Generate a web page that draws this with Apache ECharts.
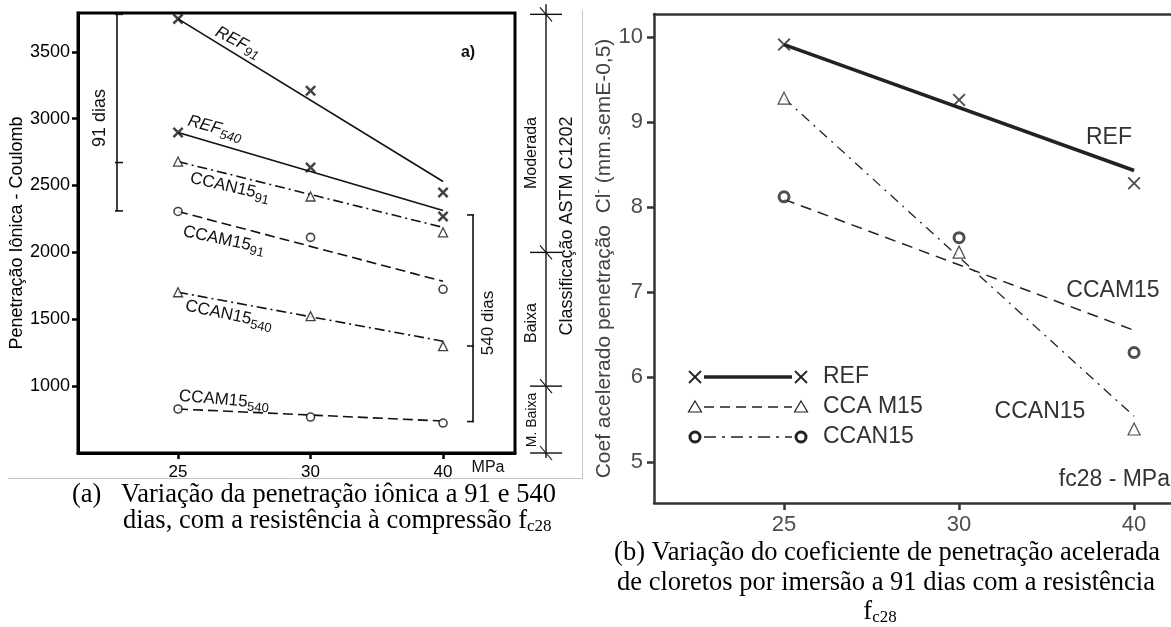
<!DOCTYPE html>
<html>
<head>
<meta charset="utf-8">
<script src="https://cdn.jsdelivr.net/npm/echarts@6/dist/echarts.min.js"></script>
<style>
html, body { margin: 0; padding: 0; background: #fff; }
#chart { width: 1171px; height: 627px; }
</style>
</head>
<body>
<div id="chart"></div>
<script>
// Compressive strength classes fc28 (MPa), shared by both panels
const strengthClasses = ['25', '30', '40'];

// (a) Charge passed (Coulomb) at 91 and 540 days
const ref91 = [3746, 3209, 2448];
const ref540 = [2896, 2634, 2269];
const ccan15_91 = [2679, 2418, 2150];
const ccam15_91 = [2306, 2112, 1724];
const ccan15_540 = [1702, 1523, 1299];
const ccam15_540 = [829, 769, 724];
// fitted trends: value at 25 MPa and at 40 MPa
const ref91Trend = [3746, 2530];
const ref540Trend = [2896, 2314];
const ccan15_91Trend = [2679, 2187];
const ccam15_91Trend = [2306, 1784];
const ccan15_540Trend = [1702, 1336];
const ccam15_540Trend = [829, 739];
const coulombTicks = [1000, 1500, 2000, 2500, 3000, 3500];

// ASTM C1202 class limits (Coulomb) and class names
const astmLimits = [3780, 2000, 1000, 500];
const astmClasses = ['Moderada', 'Baixa', 'M. Baixa'];
// ranges covered by the 91-day and 540-day results
const range91 = [3780, 2672, 2310];
const range540 = [2280, 1300, 735];

// (b) Accelerated chloride penetration coefficient at 91 days
const refCoef = [9.91, 9.26, 8.28];
const ccan15Coef = [9.28, 7.47, 5.39];
const ccam15Coef = [8.12, 7.64, 6.29];
const refCoefTrend = [9.91, 8.43];
const ccan15CoefTrend = [9.28, 5.54];
const ccam15CoefTrend = [8.09, 6.55];
const coefTicks = [5, 6, 7, 8, 9, 10];
const legendNames = ['REF', 'CCA M15', 'CCAN15'];

const SANS = '"Liberation Sans", Arial, sans-serif';
const SERIF = '"Liberation Serif", "Times New Roman", serif';
const crossBold = 'path://M0,1.6L1.6,0L5,3.4L8.4,0L10,1.6L6.6,5L10,8.4L8.4,10L5,6.6L1.6,10L0,8.4L3.4,5Z';
const crossThin = 'path://M0,1L1,0L5,4L9,0L10,1L6,5L10,9L9,10L5,6L1,10L0,9L4,5Z';
const classIdx = strengthClasses.map((c, i) => i);

const chart = echarts.init(document.getElementById('chart'), null, { renderer: 'canvas' });

const points = vals => vals.map((v, i) => [i, v]);
const trend = tv => [[0, tv[0]], [strengthClasses.length - 1, tv[1]]];

function markers(xi, yi, vals, symbol, size, style) {
  return {
    type: 'scatter', xAxisIndex: xi, yAxisIndex: yi, data: points(vals),
    symbol: symbol, symbolSize: size, itemStyle: style, z: 5, silent: true
  };
}
function fitLine(xi, yi, tv, color, width, dash) {
  return {
    type: 'line', xAxisIndex: xi, yAxisIndex: yi, data: trend(tv), symbol: 'none',
    lineStyle: { color: color, width: width, type: dash }, z: 3, silent: true
  };
}

const crossA = { color: '#111' };
const triA = { color: '#fff', borderColor: '#111', borderWidth: 1.3 };
const circA = { color: '#fff', borderColor: '#111', borderWidth: 1.6 };
const crossB = { color: '#222' };
const triB = { color: '#fff', borderColor: '#222', borderWidth: 1.2 };
const circB = { color: '#fff', borderColor: '#222', borderWidth: 3 };

const option = {
  animation: false,
  backgroundColor: '#fff',
  grid: [
    { left: 78, top: 13, width: 437, height: 440, show: true, borderColor: '#000', borderWidth: 3 },
    { left: 654, top: 14, width: 517, height: 489 }
  ],
  xAxis: [
    {
      type: 'value', gridIndex: 0, min: -0.755, max: 2.543,
      axisLine: { onZero: false, lineStyle: { color: '#000', width: 3 } },
      axisTick: { customValues: classIdx, length: 6, lineStyle: { color: '#000', width: 2.5 } },
      axisLabel: { customValues: classIdx, formatter: v => strengthClasses[Math.round(v)],
        fontSize: 17, color: '#000', margin: 11, fontFamily: SANS },
      splitLine: { show: false }
    },
    {
      type: 'value', gridIndex: 1, min: -0.743, max: 2.211,
      axisLine: { onZero: false, lineStyle: { color: '#333', width: 2.5 } },
      axisTick: { customValues: classIdx, length: 7, lineStyle: { color: '#333', width: 2.5 } },
      axisLabel: { customValues: classIdx, formatter: v => strengthClasses[Math.round(v)],
        fontSize: 22, color: '#4d4d4d', margin: 11, fontFamily: SANS },
      splitLine: { show: false }
    },
    {
      type: 'value', gridIndex: 1, position: 'top', min: -0.743, max: 2.211,
      axisLine: { onZero: false, lineStyle: { color: '#333', width: 2.5 } },
      axisTick: { show: false }, axisLabel: { show: false }, splitLine: { show: false }
    }
  ],
  yAxis: [
    {
      type: 'value', gridIndex: 0, min: 500, max: 3790,
      name: 'Penetração Iônica - Coulomb', nameLocation: 'middle', nameGap: 51,
      nameTextStyle: { fontSize: 18, color: '#000', fontFamily: SANS },
      axisLine: { onZero: false, lineStyle: { color: '#000', width: 3 } },
      axisTick: { customValues: coulombTicks, length: 6, lineStyle: { color: '#000', width: 2.5 } },
      axisLabel: { customValues: coulombTicks, formatter: v => String(v),
        fontSize: 18, color: '#000', margin: 8, fontFamily: SANS },
      splitLine: { show: false }
    },
    {
      type: 'value', gridIndex: 1, min: 4.52, max: 10.27,
      name: '{t|Coef acelerado penetração  Cl}{s|-}{t| (mm.semE-0,5)}',
      nameLocation: 'middle', nameGap: 31,
      nameTextStyle: {
        fontFamily: SANS, color: '#444',
        rich: {
          t: { fontSize: 21, color: '#444', fontFamily: SANS },
          s: { fontSize: 13, color: '#444', fontFamily: SANS, padding: [0, 0, 12, 0] }
        }
      },
      axisLine: { onZero: false, lineStyle: { color: '#333', width: 2.5 } },
      axisTick: { customValues: coefTicks, length: 7, lineStyle: { color: '#333', width: 2.5 } },
      axisLabel: { customValues: coefTicks, fontSize: 22, color: '#4d4d4d', margin: 11, fontFamily: SANS },
      splitLine: { show: false }
    }
  ],
  series: [
    // (a) 91 and 540 days
    fitLine(0, 0, ref91Trend, '#111', 1.6, 'solid'),
    fitLine(0, 0, ref540Trend, '#111', 1.6, 'solid'),
    fitLine(0, 0, ccan15_91Trend, '#111', 1.6, [10, 4, 2, 4]),
    fitLine(0, 0, ccam15_91Trend, '#111', 1.6, [10, 5]),
    fitLine(0, 0, ccan15_540Trend, '#111', 1.6, [10, 4, 2, 4]),
    fitLine(0, 0, ccam15_540Trend, '#111', 1.6, [10, 5]),
    markers(0, 0, ref91, crossBold, 11, crossA),
    markers(0, 0, ref540, crossBold, 11, crossA),
    markers(0, 0, ccan15_91, 'triangle', 9, triA),
    markers(0, 0, ccam15_91, 'circle', 8, circA),
    markers(0, 0, ccan15_540, 'triangle', 9, triA),
    markers(0, 0, ccam15_540, 'circle', 8, circA),
    // (b) coefficient at 91 days
    fitLine(1, 1, refCoefTrend, '#222', 3.5, 'solid'),
    fitLine(1, 1, ccan15CoefTrend, '#222', 1.3, [10, 6, 2, 6]),
    fitLine(1, 1, ccam15CoefTrend, '#222', 1.5, [11, 7]),
    markers(1, 1, refCoef, crossThin, 13, crossB),
    markers(1, 1, ccan15Coef, 'triangle', 12, triB),
    markers(1, 1, ccam15Coef, 'circle', 10, circB)
  ]
};
chart.setOption(option);

// ---- annotations -------------------------------------------------------
const yA = v => chart.convertToPixel({ yAxisIndex: 0 }, v);
const g = [];
const line = (x1, y1, x2, y2, stroke, w, dash) => g.push({
  type: 'line', silent: true, z: 10,
  shape: { x1: x1, y1: y1, x2: x2, y2: y2 },
  style: { stroke: stroke || '#111', lineWidth: w || 1.5, lineDash: dash || null }
});
const text = (t, x, y, opts) => g.push(Object.assign({
  type: 'text', silent: true, z: 10, x: x, y: y, rotation: 0,
  style: Object.assign({ text: t, fill: '#111', fontFamily: SANS, fontSize: 16,
    align: 'center', verticalAlign: 'middle' }, (opts && opts.style) || {})
}, (opts && opts.el) || {}));

// labels along the lines of panel (a)
const subRich = (size) => ({
  m: { fontSize: size, fontFamily: SANS, color: '#111' },
  mi: { fontSize: size, fontFamily: SANS, fontStyle: 'italic', color: '#111' },
  s: { fontSize: size - 4, fontFamily: SANS, color: '#111', padding: [10, 0, 0, 0] },
  si: { fontSize: size - 4, fontFamily: SANS, fontStyle: 'italic', color: '#111', padding: [10, 0, 0, 0] }
});
const lineLabels = [
  ['{mi|REF}{si|91}', 238, 42, -27],
  ['{mi|REF}{si|540}', 215, 128, -15],
  ['{m|CCAN15}{s|91}', 230, 187, -13],
  ['{m|CCAM15}{s|91}', 224, 240, -12],
  ['{m|CCAN15}{s|540}', 229, 315, -12],
  ['{m|CCAM15}{s|540}', 224, 400, -5]
];
lineLabels.forEach(l => text(l[0], l[1], l[2], {
  el: { rotation: l[3] * Math.PI / 180 },
  style: { rich: subRich(17) }
}));

text('a)', 468, 53, { style: { fontSize: 16, fontWeight: 'bold' } });
text('MPa', 488, 468, { style: { fontSize: 16 } });

// 91-day range
const b91 = range91.map(yA);
line(117, b91[0], 117, b91[2], '#111', 1.6);
b91.forEach(y => line(115, y, 123, y, '#111', 1.6));
text('91 dias', 100, 118, { el: { rotation: Math.PI / 2 }, style: { fontSize: 18 } });

// 540-day range
const b540 = range540.map(yA);
line(473, b540[0], 473, b540[2], '#111', 1.6);
b540.forEach(y => line(467, y, 474, y, '#111', 1.6));
text('540 dias', 488, 323, { el: { rotation: Math.PI / 2 }, style: { fontSize: 17 } });

// ASTM C1202 classification scale
const lim = astmLimits.map(yA);
line(546, lim[0] - 10, 546, lim[3] + 5, '#111', 1.4);
lim.forEach(y => {
  line(530, y, 562, y, '#111', 1.4);
  line(540, y - 7, 552, y + 7, '#111', 1.1);
});
const classLabelY = [153, 323, 420];
astmClasses.forEach((c, i) => text(c, 532, classLabelY[i], {
  el: { rotation: Math.PI / 2 }, style: { fontSize: i === 2 ? 14 : 16 }
}));
text('Classificação ASTM C1202', 567, 226, { el: { rotation: Math.PI / 2 }, style: { fontSize: 18 } });

// panel (b) curve names and axis caption
text('REF', 1109, 138, { style: { fontSize: 23, fill: '#333' } });
text('CCAM15', 1113, 291, { style: { fontSize: 23, fill: '#333' } });
text('CCAN15', 1040, 412, { style: { fontSize: 23, fill: '#333' } });
text('fc28 - MPa', 1170, 480, { style: { fontSize: 23, fill: '#333', align: 'right' } });

// panel (b) key
const keyY = [377, 407, 437];
const keyL = 695, keyR = 801;
const cross = (cx, cy) => {
  line(cx - 6, cy - 6, cx + 6, cy + 6, '#222', 1.8);
  line(cx - 6, cy + 6, cx + 6, cy - 6, '#222', 1.8);
};
const tri = (cx, cy) => g.push({
  type: 'polygon', silent: true, z: 10,
  shape: { points: [[cx, cy - 6], [cx + 6.5, cy + 5], [cx - 6.5, cy + 5]] },
  style: { fill: '#fff', stroke: '#222', lineWidth: 1.2 }
});
const circ = (cx, cy) => g.push({
  type: 'circle', silent: true, z: 10,
  shape: { cx: cx, cy: cy, r: 5 },
  style: { fill: '#fff', stroke: '#222', lineWidth: 3 }
});
line(keyL + 9, keyY[0], keyR - 9, keyY[0], '#222', 3.5);
cross(keyL, keyY[0]); cross(keyR, keyY[0]);
line(keyL + 9, keyY[1], keyR - 9, keyY[1], '#222', 1.5, [10, 6]);
tri(keyL, keyY[1]); tri(keyR, keyY[1]);
line(keyL + 9, keyY[2], keyR - 9, keyY[2], '#222', 1.5, [12, 6, 3, 6]);
circ(keyL, keyY[2]); circ(keyR, keyY[2]);
legendNames.forEach((n, i) => text(n, 823, keyY[i], { style: { fontSize: 23, fill: '#333', align: 'left' } }));

// page frame
line(8, 478.5, 583, 478.5, '#c4c4c4', 1);
line(582.5, 10, 582.5, 479, '#c4c4c4', 1);

// captions (Times, 26.5px); the first line of (a) is justified
const CAP_SIZE = 26.5;
const capRich = {
  r: { fontSize: CAP_SIZE, fontFamily: SERIF, color: '#000' },
  s: { fontSize: 17, fontFamily: SERIF, color: '#000', padding: [11, 0, 0, 0] }
};
const cap = (t, x, y, align) => text(t, x, y, { style: { rich: capRich, align: align || 'left', fill: '#000' } });
const measure = (() => {
  const ctx = document.createElement('canvas').getContext('2d');
  ctx.font = CAP_SIZE + 'px ' + SERIF;
  return s => ctx.measureText(s).width;
})();
function justified(words, x0, x1, y) {
  const total = words.reduce((a, w) => a + measure(w), 0);
  const gap = (x1 - x0 - total) / (words.length - 1);
  let x = x0;
  words.forEach(w => {
    cap('{r|' + w + '}', x, y);
    x += measure(w) + gap;
  });
}
cap('{r|(a)}', 72, 495);
justified(['Variação', 'da', 'penetração', 'iônica', 'a', '91', 'e', '540'], 121, 556, 495);
cap('{r|dias, com a resistência à compressão f}{s|c28}', 123, 521);
cap('{r|(b) Variação do coeficiente de penetração acelerada}', 887, 553, 'center');
cap('{r|de cloretos por imersão a 91 dias com a resistência}', 886, 583, 'center');
cap('{r|f}{s|c28}', 880, 612, 'center');

chart.setOption({ graphic: { elements: g } });
</script>
</body>
</html>
